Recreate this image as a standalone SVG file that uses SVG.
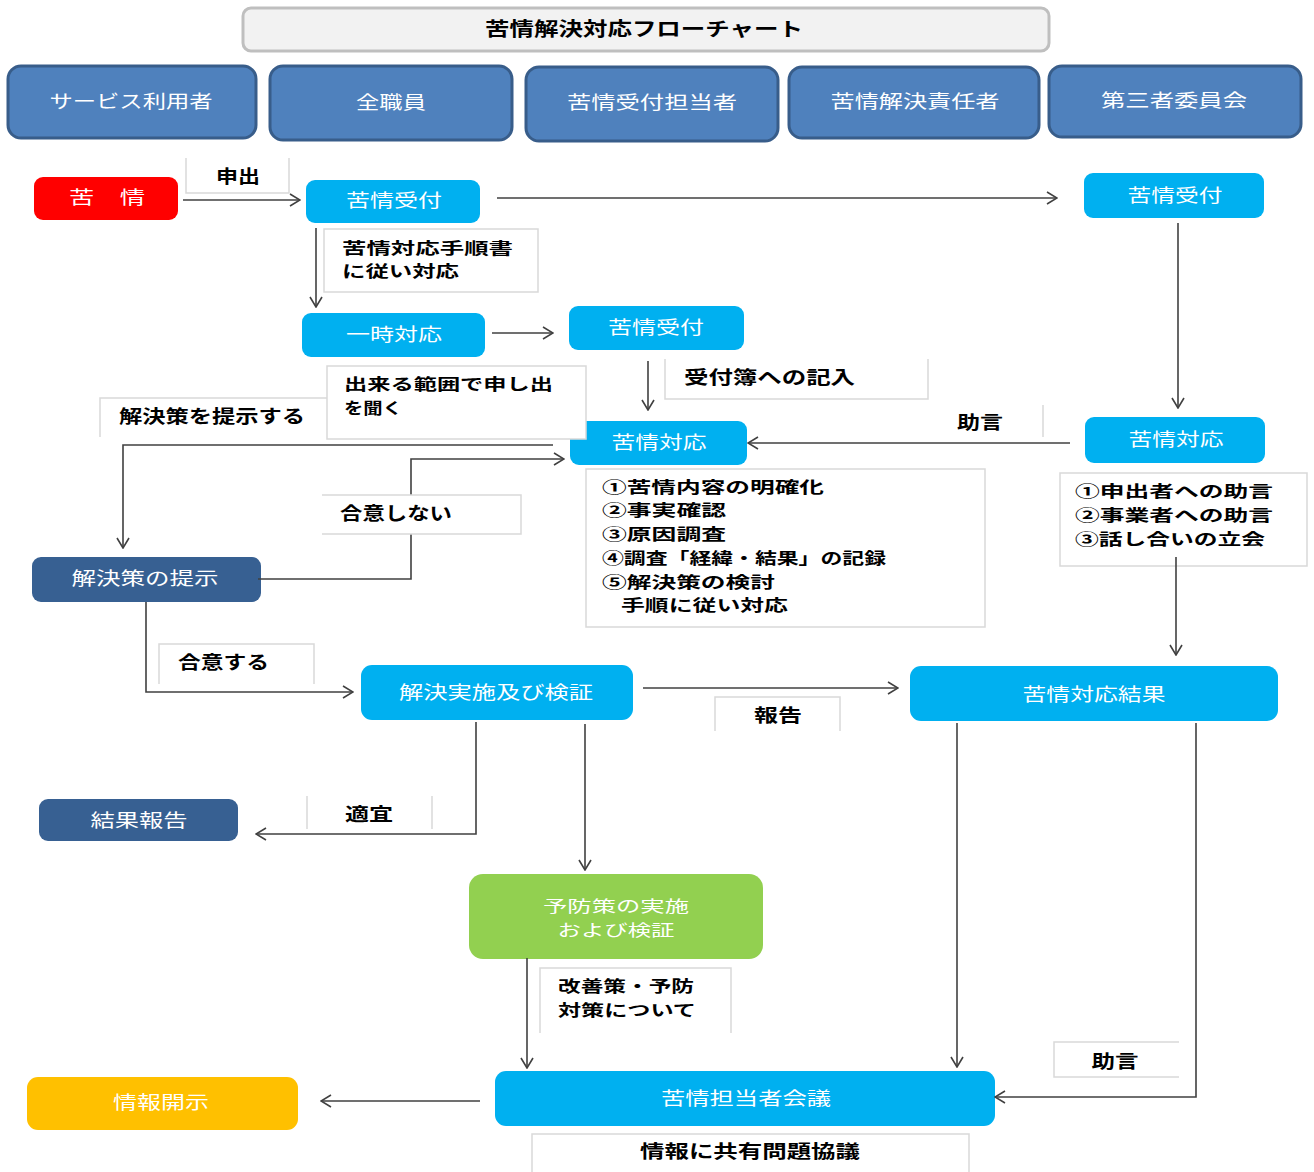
<svg xmlns="http://www.w3.org/2000/svg" width="1314" height="1172" viewBox="0 0 1314 1172">
<defs>
<marker id="ah" markerWidth="12" markerHeight="14" refX="11" refY="7" orient="auto" markerUnits="userSpaceOnUse">
<path d="M1,1 L11,7 L1,13" fill="none" stroke="#404040" stroke-width="1.6"/>
</marker>
<style>
text{font-family:"Noto Sans CJK JP","Noto Sans CJK SC",sans-serif;font-size:18px}
.t{font-weight:bold;font-size:19px;fill:#000}
.hdr{fill:#4f81bd;stroke:#385d8a;stroke-width:3}
.n{fill:#00b0f0}
.nd{fill:#376092}
.w{fill:#fff;text-anchor:middle}
.k{fill:#000;font-weight:bold}
.s{font-size:15.5px}
.m{text-anchor:middle}
.bg{fill:#fff;stroke:none}
.e{fill:none;stroke:#d9d9d9;stroke-width:1.5}
.eb{fill:#fff;stroke:#d9d9d9;stroke-width:1.5}
.c{fill:none;stroke:#404040;stroke-width:1.6;marker-end:url(#ah)}
</style>
</defs>
<rect width="1314" height="1172" fill="#fff"/>

<g id="title">
<rect x="243" y="8" width="806" height="43" rx="8" fill="#f2f2f2" stroke="#bfbfbf" stroke-width="3"/>
<text class="t" x="644" y="36" text-anchor="middle" textLength="318" lengthAdjust="spacingAndGlyphs">苦情解決対応フローチャート</text>
</g>

<g id="hdr-user"><rect class="hdr" x="8" y="66" width="248" height="72" rx="13"/><text class="w" x="131" y="108" textLength="163" lengthAdjust="spacingAndGlyphs">サービス利用者</text></g>
<g id="hdr-staff"><rect class="hdr" x="270" y="66" width="242" height="74" rx="13"/><text class="w" x="391" y="109" textLength="70" lengthAdjust="spacingAndGlyphs">全職員</text></g>
<g id="hdr-reception"><rect class="hdr" x="526" y="67" width="252" height="74" rx="13"/><text class="w" x="652" y="109" textLength="170" lengthAdjust="spacingAndGlyphs">苦情受付担当者</text></g>
<g id="hdr-resp"><rect class="hdr" x="789" y="67" width="250" height="71" rx="13"/><text class="w" x="915" y="108" textLength="169" lengthAdjust="spacingAndGlyphs">苦情解決責任者</text></g>
<g id="hdr-third"><rect class="hdr" x="1049" y="66" width="252" height="71" rx="13"/><text class="w" x="1174" y="107" textLength="146" lengthAdjust="spacingAndGlyphs">第三者委員会</text></g>

<g id="n-kujo"><rect x="34" y="177" width="144" height="43" rx="9" fill="#ff0000"/><text class="w" x="107" y="204" textLength="76" lengthAdjust="spacingAndGlyphs">苦　情</text></g>
<g id="n-uketsuke1"><rect class="n" x="306" y="180" width="174" height="43" rx="9"/><text class="w" x="394" y="207" textLength="96" lengthAdjust="spacingAndGlyphs">苦情受付</text></g>
<g id="n-uketsukeR"><rect class="n" x="1084" y="173" width="180" height="45" rx="9"/><text class="w" x="1175" y="202" textLength="95" lengthAdjust="spacingAndGlyphs">苦情受付</text></g>
<g id="n-ichiji"><rect class="n" x="302" y="313" width="183" height="44" rx="9"/><text class="w" x="394" y="341" textLength="96" lengthAdjust="spacingAndGlyphs">一時対応</text></g>
<g id="n-uketsuke2"><rect class="n" x="569" y="306" width="175" height="44" rx="9"/><text class="w" x="656" y="334" textLength="96" lengthAdjust="spacingAndGlyphs">苦情受付</text></g>
<g id="n-taio1"><rect class="n" x="570" y="421" width="177" height="44" rx="9"/><text class="w" x="659" y="449" textLength="95" lengthAdjust="spacingAndGlyphs">苦情対応</text></g>
<g id="n-taioR"><rect class="n" x="1085" y="417" width="180" height="46" rx="9"/><text class="w" x="1176" y="446" textLength="95" lengthAdjust="spacingAndGlyphs">苦情対応</text></g>
<g id="n-kaiketsusaku"><rect class="nd" x="32" y="557" width="229" height="45" rx="9"/><text class="w" x="145" y="585" textLength="147" lengthAdjust="spacingAndGlyphs">解決策の提示</text></g>
<g id="n-jisshi"><rect class="n" x="361" y="665" width="272" height="55" rx="11"/><text class="w" x="496" y="699" textLength="194" lengthAdjust="spacingAndGlyphs">解決実施及び検証</text></g>
<g id="n-kekka"><rect class="n" x="910" y="666" width="368" height="55" rx="11"/><text class="w" x="1094" y="701" textLength="143" lengthAdjust="spacingAndGlyphs">苦情対応結果</text></g>
<g id="n-hokoku"><rect class="nd" x="39" y="799" width="199" height="42" rx="9"/><text class="w" x="139" y="827" textLength="97" lengthAdjust="spacingAndGlyphs">結果報告</text></g>
<g id="n-yobo"><rect x="469" y="874" width="294" height="85" rx="14" fill="#92d050"/><text class="w s" x="616" y="912" textLength="146" lengthAdjust="spacingAndGlyphs">予防策の実施</text><text class="w s" x="616" y="936" textLength="117" lengthAdjust="spacingAndGlyphs">および検証</text></g>
<g id="n-kaiji"><rect x="27" y="1077" width="271" height="53" rx="11" fill="#ffc000"/><text class="w" x="161" y="1109" textLength="96" lengthAdjust="spacingAndGlyphs">情報開示</text></g>
<g id="n-kaigi"><rect class="n" x="495" y="1071" width="500" height="55" rx="11"/><text class="w" x="746" y="1105" textLength="170" lengthAdjust="spacingAndGlyphs">苦情担当者会議</text></g>

<g id="lb-list1"><rect class="e" x="586" y="469" width="399" height="158"/>
<text class="k s" x="602" y="493" textLength="222" lengthAdjust="spacingAndGlyphs">①苦情内容の明確化</text>
<text class="k s" x="602" y="516" textLength="124" lengthAdjust="spacingAndGlyphs">②事実確認</text>
<text class="k s" x="602" y="540" textLength="124" lengthAdjust="spacingAndGlyphs">③原因調査</text>
<text class="k s" x="602" y="564" textLength="284" lengthAdjust="spacingAndGlyphs">④調査「経緯・結果」の記録</text>
<text class="k s" x="602" y="588" textLength="173" lengthAdjust="spacingAndGlyphs">⑤解決策の検討</text>
<text class="k s" x="621" y="611" textLength="167" lengthAdjust="spacingAndGlyphs">手順に従い対応</text></g>
<g id="lb-list2"><rect class="e" x="1060" y="473" width="247" height="93"/>
<text class="k s" x="1075" y="497" textLength="198" lengthAdjust="spacingAndGlyphs">①申出者への助言</text>
<text class="k s" x="1075" y="521" textLength="198" lengthAdjust="spacingAndGlyphs">②事業者への助言</text>
<text class="k s" x="1075" y="545" textLength="190" lengthAdjust="spacingAndGlyphs">③話し合いの立会</text></g>

<g id="connectors">
<path class="c" d="M183,200 H300"/>
<path class="c" d="M497,198 H1057"/>
<path class="c" d="M316,228 V307"/>
<path class="c" d="M492,333 H553"/>
<path class="c" d="M648,361 V410"/>
<path class="c" d="M1178,223 V408"/>
<path class="c" d="M1070,443 H748"/>
<path class="c" d="M553,445 H123 V548"/>
<path class="c" d="M258,579 H411 V459 H564"/>
<path class="c" d="M146,602 V692 H353"/>
<path class="c" d="M643,688 H898"/>
<path class="c" d="M1176,557 V655"/>
<path class="c" d="M476,722 V834 H256"/>
<path class="c" d="M585,724 V870"/>
<path class="c" d="M527,958 V1068"/>
<path class="c" d="M957,723 V1067"/>
<path class="c" d="M1196,723 V1097 H995"/>
<path class="c" d="M480,1101 H321"/>
</g>

<g id="lb-moushide"><path class="e" d="M186,158 V193 H289 V158"/><text class="k m" x="238" y="183" textLength="44" lengthAdjust="spacingAndGlyphs">申出</text></g>
<g id="lb-tejun"><rect class="eb" x="324" y="229" width="214" height="63"/><text class="k s" x="342" y="254" textLength="171" lengthAdjust="spacingAndGlyphs">苦情対応手順書</text><text class="k s" x="342" y="277" textLength="117" lengthAdjust="spacingAndGlyphs">に従い対応</text></g>
<g id="lb-teiji"><rect class="bg" x="100" y="398" width="227" height="39"/><path class="e" d="M100,437 V398 H327"/><text class="k" x="119" y="423" textLength="186" lengthAdjust="spacingAndGlyphs">解決策を提示する</text></g>
<g id="lb-dekiru"><rect class="eb" x="327" y="366" width="259" height="73"/><text class="k s" x="344" y="390" textLength="209" lengthAdjust="spacingAndGlyphs">出来る範囲で申し出</text><text class="k s" x="344" y="414" textLength="58" lengthAdjust="spacingAndGlyphs">を聞く</text></g>
<g id="lb-kinyu"><path class="e" d="M665,359 V399 H928 V359"/><text class="k" x="684" y="384" textLength="171" lengthAdjust="spacingAndGlyphs">受付簿への記入</text></g>
<g id="lb-jogen1"><path class="e" d="M1043,405 V437"/><text class="k m" x="980" y="429" textLength="46" lengthAdjust="spacingAndGlyphs">助言</text></g>
<g id="lb-fugoui"><rect class="bg" x="322" y="495" width="199" height="39"/><path class="e" d="M322,495 H521 V534 H322"/><text class="k" x="340" y="520" textLength="112" lengthAdjust="spacingAndGlyphs">合意しない</text></g>
<g id="lb-goui"><rect class="bg" x="159" y="644" width="155" height="40"/><path class="e" d="M159,684 V644 H314 V684"/><text class="k" x="178" y="669" textLength="91" lengthAdjust="spacingAndGlyphs">合意する</text></g>
<g id="lb-hokoku"><rect class="bg" x="715" y="697" width="125" height="34"/><path class="e" d="M715,731 V697 H840 V731"/><text class="k m" x="778" y="722" textLength="48" lengthAdjust="spacingAndGlyphs">報告</text></g>
<g id="lb-tekigi"><path class="e" d="M307,796 V829 M432,796 V829"/><text class="k m" x="369" y="821" textLength="48" lengthAdjust="spacingAndGlyphs">適宜</text></g>
<g id="lb-kaizen"><rect class="bg" x="540" y="968" width="191" height="65"/><path class="e" d="M540,1033 V968 H731 V1033"/><text class="k s" x="558" y="992" textLength="136" lengthAdjust="spacingAndGlyphs">改善策・予防</text><text class="k s" x="558" y="1016" textLength="138" lengthAdjust="spacingAndGlyphs">対策について</text></g>
<g id="lb-jogen2"><rect class="bg" x="1054" y="1042" width="125" height="35"/><path class="e" d="M1179,1042 H1054 V1077 H1179"/><text class="k m" x="1115" y="1068" textLength="47" lengthAdjust="spacingAndGlyphs">助言</text></g>
<g id="lb-kyogi"><rect class="bg" x="532" y="1134" width="437" height="38"/><path class="e" d="M532,1172 V1134 H969 V1172"/><text class="k m" x="750" y="1158" textLength="220" lengthAdjust="spacingAndGlyphs">情報に共有問題協議</text></g>
</svg>
